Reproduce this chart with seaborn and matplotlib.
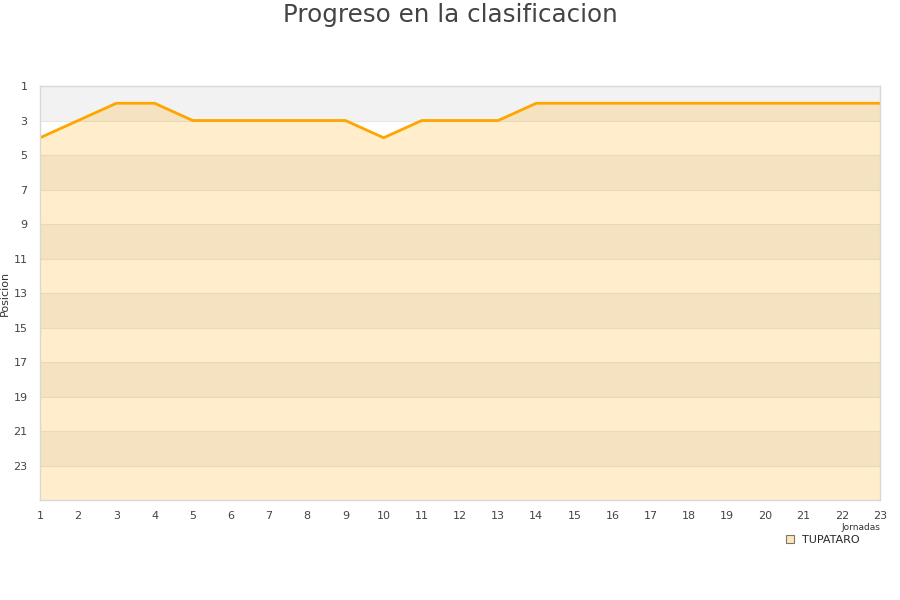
import numpy as np
import pandas as pd
import matplotlib
matplotlib.use("Agg")
import matplotlib.pyplot as plt
import seaborn as sns
from matplotlib.lines import Line2D

# Datos
jornadas = list(range(1, 24))
posiciones = [4, 3, 2, 2, 3, 3, 3, 3, 3, 4, 3, 3, 3, 2, 2, 2, 2, 2, 2, 2, 2, 2, 2]
equipo = "TUPATARO"
y_ticks = list(range(1, 25, 2))

df = pd.DataFrame({"Jornada": jornadas, "Posicion": posiciones})

sns.set_style("white")
plt.rcParams["font.family"] = ["DejaVu Sans"]

fig = plt.figure(figsize=(9, 6), dpi=100)
ax = fig.add_axes([40 / 900, 1 - 500 / 600, 840 / 900, 414 / 600])

# bandas alternas del fondo
for i, y0 in enumerate(range(1, 25, 2)):
    if i % 2 == 0:
        ax.axhspan(y0, y0 + 2, color="#f2f2f2", zorder=0, lw=0)
for y in y_ticks[1:]:
    ax.axhline(y, color="#e6e6e6", lw=0.8, zorder=0.5)

# area bajo la linea
ax.fill_between(df["Jornada"], df["Posicion"], 25, color="#ffa500", alpha=0.2, lw=0, zorder=1)
sns.lineplot(data=df, x="Jornada", y="Posicion", color="#ffa500", lw=2, ax=ax, zorder=2)

ax.set_xlim(1, 23)
ax.set_ylim(25, 1)
ax.set_xticks(jornadas)
ax.set_yticks(y_ticks)
ax.tick_params(axis="both", length=0, labelsize=8, colors="#444444", pad=8)
ax.tick_params(axis="y", pad=9)
for s in ax.spines.values():
    s.set_color("#d8d8d8")
    s.set_linewidth(1)
ax.set_ylabel("Posicion", fontsize=8, color="#333333")
ax.yaxis.set_label_coords(-30 / 840, 0.5)
ax.set_xlabel("Jornadas", fontsize=6.5, color="#333333")
ax.xaxis.set_label_coords(1.0, -28 / 414)
ax.xaxis.label.set_horizontalalignment("right")
ax.xaxis.label.set_verticalalignment("center")

fig.suptitle("Progreso en la clasificacion", x=0.5, y=0.995, fontsize=17.7, color="#444444")

handle = Line2D([], [], marker="s", ls="none", markersize=6,
                markerfacecolor="#ffe6b3", markeredgecolor="#777777", markeredgewidth=0.8)
leg = fig.legend([handle], [equipo], loc="center right", bbox_to_anchor=(0.965, 1 - 540 / 600),
                 frameon=False, fontsize=8, handletextpad=0.6, borderpad=0.3, handlelength=1.0)

fig.savefig("out.png", dpi=100)
